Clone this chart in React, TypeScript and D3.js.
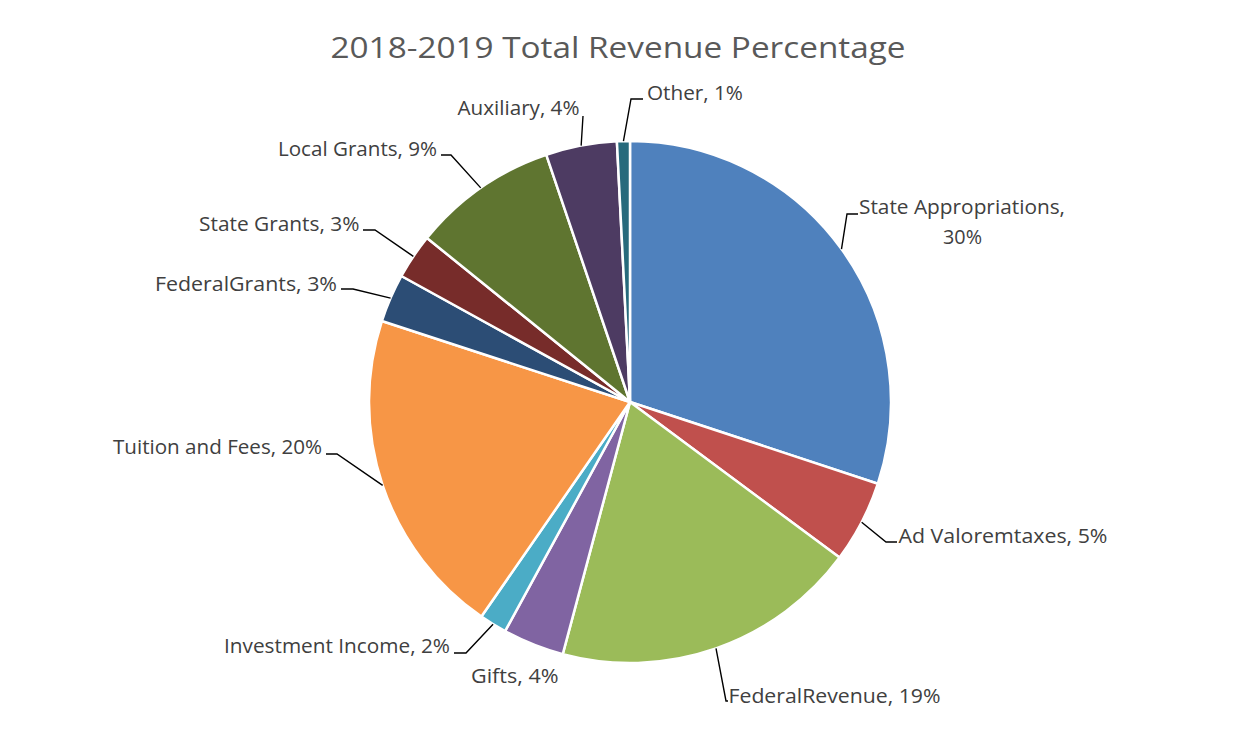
import React from 'react';
import * as d3 from 'd3';

// ---- data ----
const title = '2018-2019 Total Revenue Percentage';
const categories = [
  'State Appropriations',
  'Ad Valoremtaxes',
  'FederalRevenue',
  'Gifts',
  'Investment Income',
  'Tuition and Fees',
  'FederalGrants',
  'State Grants',
  'Local Grants',
  'Auxiliary',
  'Other',
];
const values = [30.1, 5.1, 19.0, 3.8, 1.7, 20.4, 3.0, 2.8, 9.0, 4.4, 0.8];
const colors = [
  '#4F81BD', '#C0504D', '#9BBB59', '#8064A2', '#4BACC6', '#F79646',
  '#2C4D75', '#772C2A', '#5F7530', '#4D3B62', '#276A7C',
];

// ---- layout (label boxes and leader elbows) ----
type Lab = {
  left: number; base: number; w: number;
  elbow?: [number, number]; end?: [number, number];
  split?: boolean; left2?: number; base2?: number; w2?: number;
};
const labelLayout: Lab[] = [
  { left: 859, base: 214, w: 206, elbow: [847, 214], end: [858, 214], split: true, left2: 943, base2: 244, w2: 39 },
  { left: 898.5, base: 543, w: 209, elbow: [886, 542], end: [897, 542] },
  { left: 728.5, base: 703, w: 212, elbow: [726, 701], end: [728, 701] },
  { left: 471, base: 683, w: 87.6 },
  { left: 224, base: 652.5, w: 226, elbow: [466, 653], end: [454, 653] },
  { left: 113, base: 453.5, w: 209, elbow: [337, 454], end: [326, 454] },
  { left: 155, base: 291, w: 182, elbow: [353, 289], end: [341, 289] },
  { left: 199, base: 231, w: 160.5, elbow: [375, 230], end: [363, 230] },
  { left: 278, base: 156, w: 159, elbow: [451, 155], end: [441, 155] },
  { left: 457.5, base: 115, w: 122, elbow: [583, 116], end: [583, 116] },
  { left: 647, base: 99.5, w: 96, elbow: [631, 99], end: [643, 99] },
];

const W = 1251;
const H = 731;
const cx = 630;
const cy = 402;
const R = 261;
const FONT = "'Open Sans', 'Noto Sans', sans-serif";
const LFS = 20;

export default function App() {
  const data = categories.map((c, i) => ({ name: c, value: values[i], color: colors[i] }));
  const pie = d3.pie<any>().sort(null).value((d: any) => d.value).startAngle(0).endAngle(2 * Math.PI);
  const arcs = pie(data);
  const arcGen = d3.arc<any>().innerRadius(0).outerRadius(R);
  const outer = d3.arc<any>().innerRadius(R).outerRadius(R);

  return (
    <svg width={W} height={H} style={{ position: 'absolute', left: 0, top: 0, background: '#fff' }}>
      <rect x={0} y={0} width={W} height={H} fill="#fff" />
      <text x={618} y={58} textAnchor="middle" fontFamily={FONT} fontSize={28.5} fill="#595959"
        textLength={575} lengthAdjust="spacingAndGlyphs">{title}</text>
      <g transform={`translate(${cx},${cy})`}>
        {arcs.map((a, i) => (
          <path key={i} d={arcGen(a) as string} fill={a.data.color} stroke="#fff" strokeWidth={2.5} strokeLinejoin="round" />
        ))}
      </g>
      {arcs.map((a, i) => {
        const L = labelLayout[i];
        const [px, py] = outer.centroid(a);
        const pct = `${Math.round(a.data.value)}%`;
        const lines: JSX.Element[] = [];
        if (L.elbow && L.end) {
          const pts = [[px + cx, py + cy], L.elbow, L.end];
          lines.push(
            <path key="l" d={d3.line()(pts as any) as string} fill="none" stroke="#000" strokeWidth={1.4} />
          );
        }
        return (
          <g key={i}>
            {lines}
            {L.split ? (
              <>
                <text x={L.left} y={L.base} fontFamily={FONT} fontSize={LFS} fill="#404040"
                  textLength={L.w} lengthAdjust="spacingAndGlyphs">{`${a.data.name},`}</text>
                <text x={L.left2} y={L.base2} fontFamily={FONT} fontSize={LFS} fill="#404040"
                  textLength={L.w2} lengthAdjust="spacingAndGlyphs">{pct}</text>
              </>
            ) : (
              <text x={L.left} y={L.base} fontFamily={FONT} fontSize={LFS} fill="#404040"
                textLength={L.w} lengthAdjust="spacingAndGlyphs">{`${a.data.name}, ${pct}`}</text>
            )}
          </g>
        );
      })}
    </svg>
  );
}
